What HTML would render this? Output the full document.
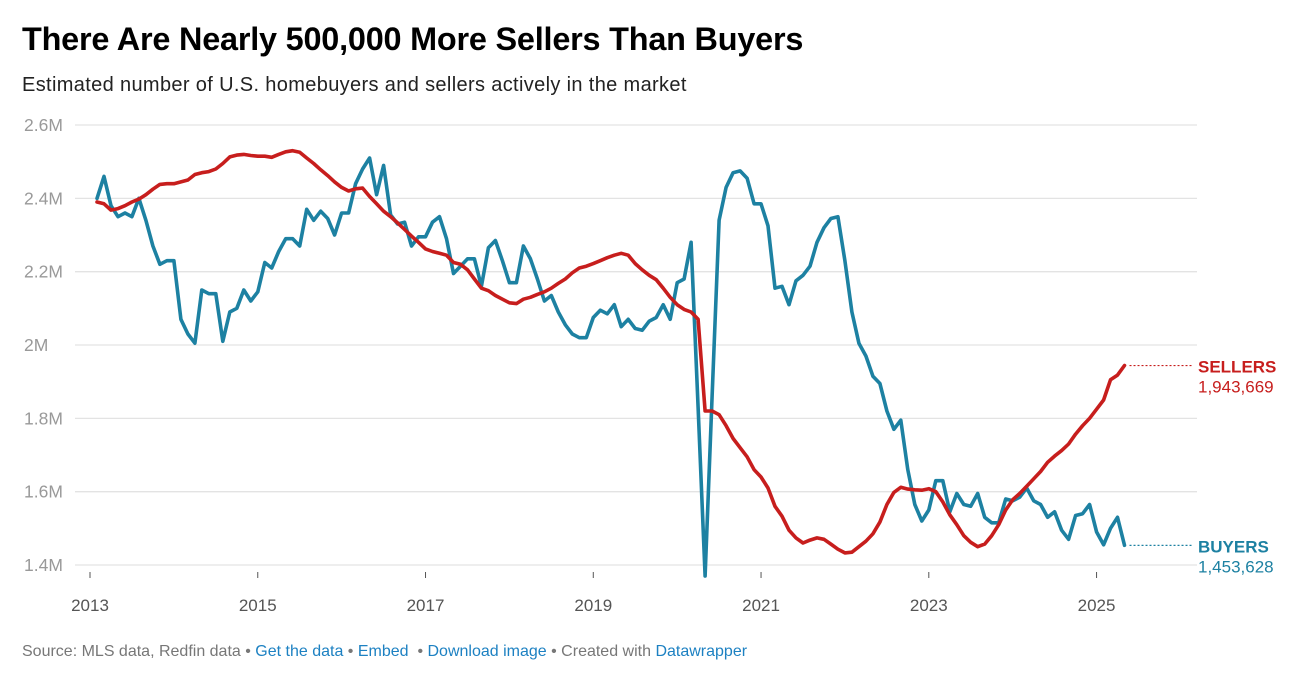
<!DOCTYPE html>
<html><head><meta charset="utf-8">
<style>
body{margin:0;background:#fff;width:1292px;height:678px;overflow:hidden;font-family:"Liberation Sans",Arial,sans-serif}
#title{position:absolute;left:22px;top:21px;font-size:32.4px;font-weight:bold;color:#000;letter-spacing:-0.2px}
#sub{position:absolute;left:22px;top:74px;font-size:20px;color:#222;letter-spacing:0.35px}
#foot{position:absolute;left:22px;top:643px;font-size:16px;color:#777}
#foot a{color:#1d81c2;text-decoration:none}
svg{position:absolute;left:0;top:0}
</style></head><body>
<div id="title">There Are Nearly 500,000 More Sellers Than Buyers</div>
<div id="sub">Estimated number of U.S. homebuyers and sellers actively in the market</div>
<svg id="chart" width="1292" height="678"></svg>
<div id="foot">Source: MLS data, Redfin data • <a>Get the data</a> • <a>Embed</a> &nbsp;• <a>Download image</a> • Created with <a>Datawrapper</a></div>
<script>
const yTicks=[1.4,1.6,1.8,2.0,2.2,2.4,2.6];
const yTickLabels=["1.4M","1.6M","1.8M","2M","2.2M","2.4M","2.6M"];
const xTickYears=[2013,2015,2017,2019,2021,2023,2025];
const startYear=2013, startMonth=1; // Feb 2013 (0-based month)
const sellers=[2.39,2.385,2.368,2.372,2.38,2.39,2.398,2.41,2.425,2.438,2.44,2.44,2.445,2.45,2.465,2.47,2.473,2.48,2.495,2.513,2.518,2.52,2.517,2.515,2.515,2.512,2.52,2.527,2.53,2.526,2.51,2.495,2.478,2.462,2.445,2.43,2.42,2.426,2.428,2.405,2.385,2.365,2.35,2.333,2.315,2.297,2.28,2.262,2.255,2.25,2.245,2.225,2.22,2.205,2.18,2.155,2.148,2.135,2.125,2.115,2.113,2.125,2.13,2.138,2.145,2.155,2.168,2.18,2.197,2.21,2.215,2.222,2.23,2.238,2.245,2.25,2.245,2.222,2.205,2.19,2.178,2.155,2.13,2.11,2.097,2.09,2.07,1.82,1.82,1.81,1.78,1.745,1.72,1.695,1.66,1.64,1.61,1.56,1.533,1.495,1.474,1.46,1.468,1.474,1.47,1.457,1.443,1.433,1.435,1.45,1.465,1.485,1.517,1.565,1.598,1.612,1.607,1.605,1.604,1.608,1.6,1.572,1.537,1.51,1.48,1.462,1.45,1.457,1.48,1.51,1.55,1.578,1.595,1.615,1.635,1.655,1.68,1.697,1.712,1.73,1.757,1.78,1.8,1.825,1.85,1.905,1.918,1.944];
const buyers=[2.40,2.46,2.38,2.35,2.36,2.35,2.40,2.34,2.27,2.22,2.23,2.23,2.07,2.03,2.005,2.15,2.14,2.14,2.01,2.09,2.10,2.15,2.12,2.145,2.225,2.21,2.255,2.29,2.29,2.27,2.37,2.34,2.365,2.345,2.30,2.36,2.36,2.44,2.48,2.51,2.41,2.49,2.355,2.33,2.335,2.27,2.295,2.295,2.335,2.35,2.29,2.195,2.215,2.235,2.235,2.16,2.265,2.285,2.23,2.17,2.17,2.27,2.235,2.18,2.12,2.135,2.09,2.055,2.03,2.02,2.02,2.075,2.095,2.085,2.11,2.05,2.07,2.045,2.04,2.065,2.075,2.11,2.07,2.17,2.18,2.28,1.83,1.37,1.86,2.34,2.43,2.47,2.475,2.455,2.385,2.385,2.325,2.155,2.16,2.11,2.175,2.19,2.215,2.28,2.32,2.345,2.35,2.23,2.09,2.005,1.97,1.915,1.895,1.82,1.77,1.795,1.66,1.565,1.52,1.55,1.63,1.63,1.545,1.595,1.565,1.56,1.595,1.53,1.515,1.515,1.58,1.575,1.585,1.61,1.575,1.565,1.53,1.545,1.495,1.47,1.535,1.54,1.565,1.49,1.455,1.50,1.53,1.4536];
const sellersLabel="1,943,669", buyersLabel="1,453,628";

const svg=document.getElementById('chart');
const NS='http://www.w3.org/2000/svg';
function yS(v){return 565-(v-1.4)/0.2*73.33;}
function xM(m){return 90+m*6.99;} // months since Jan 2013
function xI(i){return xM(startMonth+i);}
function mk(tag,attrs){const e=document.createElementNS(NS,tag);for(const k in attrs)e.setAttribute(k,attrs[k]);svg.appendChild(e);return e;}

yTicks.forEach((t,i)=>{
  const g=mk('line',{x1:75,x2:1197,y1:yS(t),y2:yS(t),stroke:'#e3e3e3','stroke-width':1.3});
  
  
  const l=mk('text',{x:24,y:yS(t)+6,fill:'#999','font-size':17.5});
  l.textContent=yTickLabels[i];
  
  
});
xTickYears.forEach(yr=>{
  const x=xM((yr-startYear)*12);
  const t=mk('line',{x1:x,x2:x,y1:572,y2:578,stroke:'#555','stroke-width':1});
  
  
  const l=mk('text',{x:x,y:611,fill:'#555','font-size':17,'text-anchor':'middle'});
  l.textContent=yr;
  
  
});
function line(arr,color,name){
  const d=arr.map((v,i)=>(i?'L':'M')+xI(i).toFixed(1)+','+yS(v).toFixed(1)).join('');
  const p=mk('path',{d:d,fill:'none',stroke:color,'stroke-width':3.6,'stroke-linejoin':'round','stroke-linecap':'round'});
  
  
}
line(buyers,'#1d81a2','buyers-line');
line(sellers,'#c71e1d','sellers-line');
function endLabel(arr,color,title,val,nm){
  const i=arr.length-1,x=xI(i),y=yS(arr[i]);
  const d=mk('line',{x1:x+5,x2:1192,y1:y,y2:y,stroke:color,'stroke-width':1.2,'stroke-dasharray':'2,2'});
  
  
  const t=mk('text',{x:1198,y:y+7,fill:color,'font-size':17,'font-weight':'bold'});
  t.textContent=title;
  
  
  const v=mk('text',{x:1198,y:y+27,fill:color,'font-size':17});
  v.textContent=val;
  
  
}
endLabel(sellers,'#c71e1d','SELLERS',sellersLabel,'sellers');
endLabel(buyers,'#1d81a2','BUYERS',buyersLabel,'buyers');
</script>
</body></html>
